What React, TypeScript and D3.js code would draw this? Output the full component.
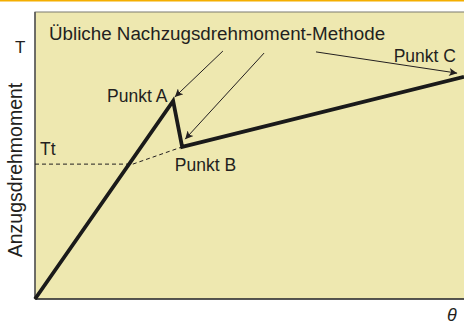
import React, { useEffect, useRef } from 'react';
import * as d3 from 'd3';

// torque curve (theta, torque) in relative units 0..100
const curveTheta = [0, 32.2, 34.3, 100];
const curveTorque = [0, 69.0, 53.0, 77.4];

// Tt level and the dashed extension toward point B
const ttLevel = 47.0;
const dashTheta = [22.8, 34.3];
const dashTorque = [47.0, 53.0];

// annotation arrows: [x1, y1, x2, y2]
const arrows = [
  [43.8, 86.4, 32.6, 70.4],
  [53.4, 85.7, 35.0, 55.7],
  [65.5, 86.1, 98.4, 78.7],
];

const labels = ['Punkt A', 'Punkt B', 'Punkt C'];
const labelPos = [[16.8, 68.7], [32.6, 44.6], [83.6, 82.6]];

const W = 464;
const H = 325;
const plotLeft = 35;
const plotTop = 12;
const plotBottom = 299;

const App = () => {
  const ref = useRef<SVGSVGElement>(null);

  useEffect(() => {
    const svg = d3.select(ref.current);
    svg.selectAll('*').remove();

    const x = d3.scaleLinear().domain([0, 100]).range([plotLeft, W]);
    const y = d3.scaleLinear().domain([0, 100]).range([plotBottom, plotBottom - 287]);
    const font = "'Liberation Sans', Arial, sans-serif";
    const ink = '#231f20';

    // orange rule at top
    svg.append('rect').attr('x', 0).attr('y', 0).attr('width', W).attr('height', 1.5).attr('fill', '#f4ae00');

    // plot background
    svg.append('rect')
      .attr('x', plotLeft).attr('y', plotTop)
      .attr('width', W - plotLeft + 2).attr('height', plotBottom - plotTop)
      .attr('fill', '#eee8b0')
      .attr('stroke', '#7a7a70').attr('stroke-width', 1);
    svg.append('line').attr('x1', plotLeft).attr('x2', plotLeft).attr('y1', plotTop).attr('y2', plotBottom)
      .attr('stroke', '#555').attr('stroke-width', 1.5);
    svg.append('line').attr('x1', plotLeft).attr('x2', W).attr('y1', plotBottom).attr('y2', plotBottom)
      .attr('stroke', '#333').attr('stroke-width', 1.5);

    // dashed Tt line
    const dash = '4,3';
    svg.append('line')
      .attr('x1', x(0)).attr('x2', x(dashTheta[0]))
      .attr('y1', y(ttLevel)).attr('y2', y(ttLevel))
      .attr('stroke', ink).attr('stroke-width', 1).attr('stroke-dasharray', dash);
    svg.append('line')
      .attr('x1', x(dashTheta[0])).attr('x2', x(dashTheta[1]))
      .attr('y1', y(dashTorque[0])).attr('y2', y(dashTorque[1]))
      .attr('stroke', ink).attr('stroke-width', 1).attr('stroke-dasharray', dash);

    // main curve
    const line = d3.line<number>()
      .x((d, i) => x(curveTheta[i]))
      .y(d => y(d));
    svg.append('path')
      .datum(curveTorque)
      .attr('d', line)
      .attr('fill', 'none')
      .attr('stroke', '#1a1a1a')
      .attr('stroke-width', 3.8)
      .attr('stroke-linejoin', 'miter');

    // arrows
    svg.append('defs').append('marker')
      .attr('id', 'head')
      .attr('viewBox', '0 0 10 10')
      .attr('refX', 10).attr('refY', 5)
      .attr('markerWidth', 11).attr('markerHeight', 8)
      .attr('markerUnits', 'userSpaceOnUse')
      .attr('orient', 'auto')
      .append('path').attr('d', 'M0,0 L10,5 L0,10 L2.5,5 Z').attr('fill', ink);
    arrows.forEach(a => {
      svg.append('line')
        .attr('x1', x(a[0])).attr('y1', y(a[1]))
        .attr('x2', x(a[2])).attr('y2', y(a[3]))
        .attr('stroke', ink).attr('stroke-width', 1)
        .attr('marker-end', 'url(#head)');
    });

    // texts
    const text = (tx: number, ty: number, s: string, size: number) =>
      svg.append('text').attr('x', tx).attr('y', ty).text(s)
        .attr('font-family', font).attr('font-size', size).attr('fill', ink);

    text(49, 40, 'Übliche Nachzugsdrehmoment-Methode', 18.8);
    labels.forEach((l, i) => text(x(labelPos[i][0]), y(labelPos[i][1]), l, 17.5));
    text(40, y(ttLevel) - 9, 'Tt', 17.5);
    text(15, 53, 'T', 17);
    text(22, 170, 'Anzugsdrehmoment', 19.5)
      .attr('text-anchor', 'middle')
      .attr('transform', 'rotate(-90,22,170)');
    text(447, 321, 'θ', 18).attr('font-style', 'italic');
  }, []);

  return (
    <svg ref={ref} width={W} height={H}
      style={{ position: 'absolute', left: 0, top: 0, background: '#fff' }} />
  );
};

export default App;
